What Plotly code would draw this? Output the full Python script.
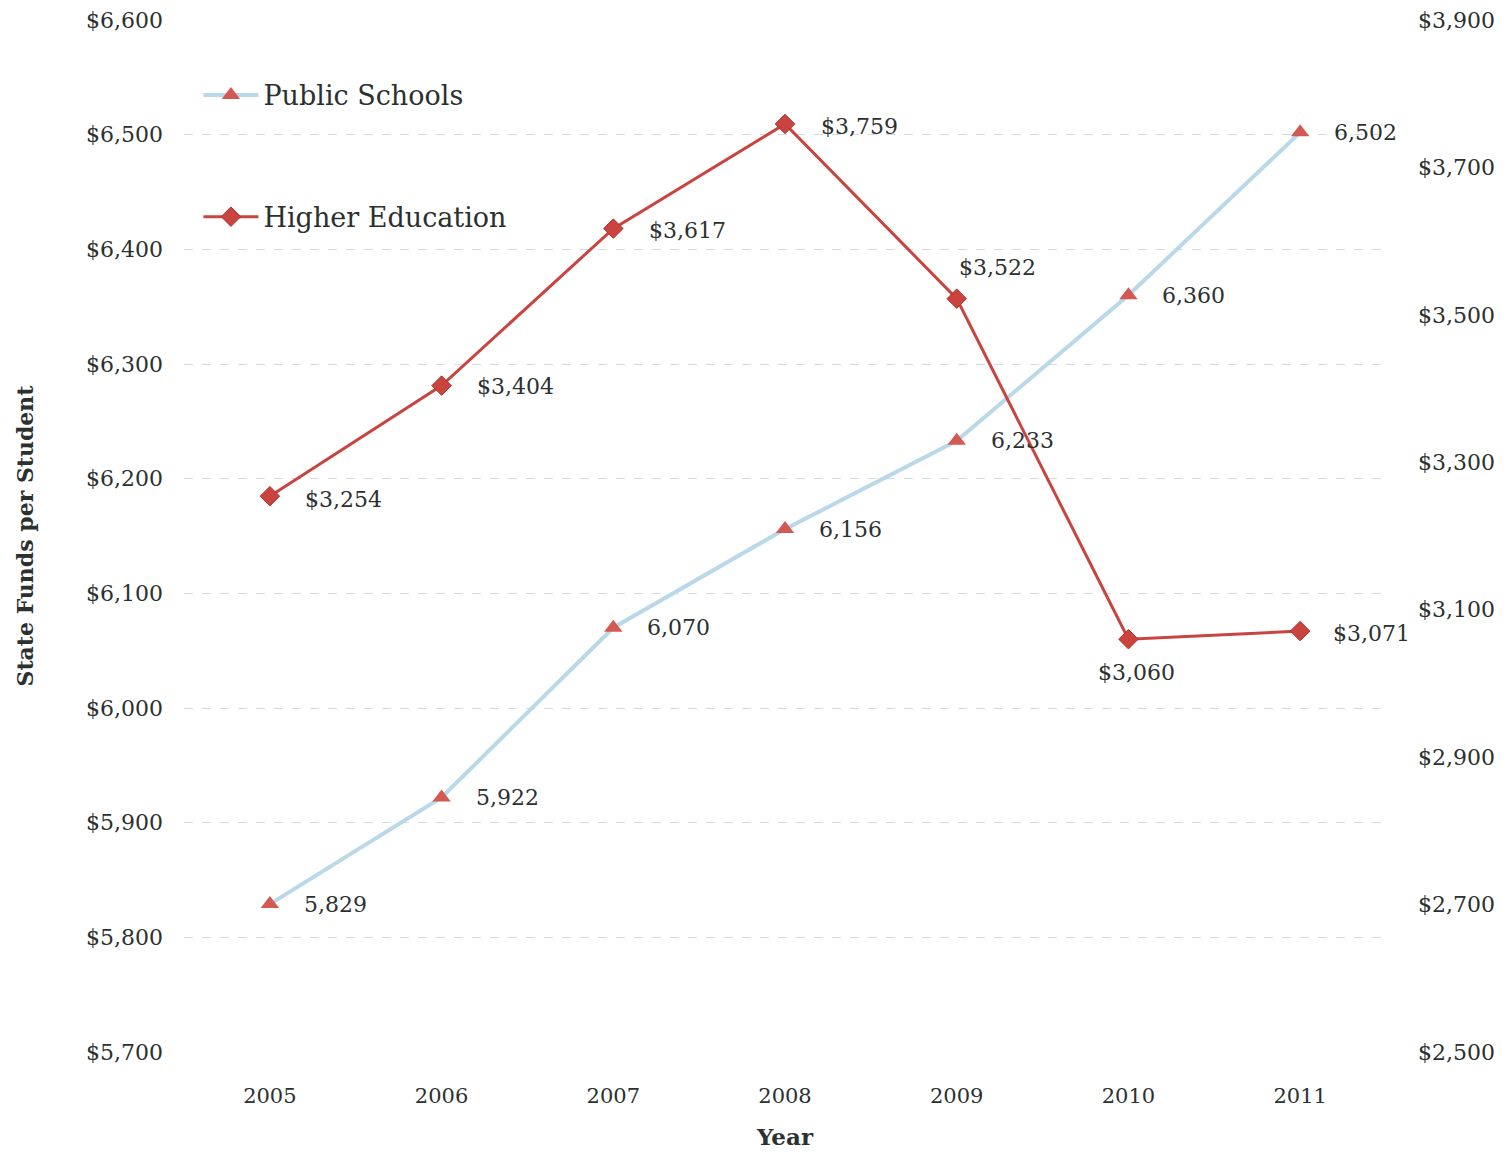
import plotly.graph_objects as go

years = [2005, 2006, 2007, 2008, 2009, 2010, 2011]
public_schools = [5829, 5922, 6070, 6156, 6233, 6360, 6502]
higher_education = [3254, 3404, 3617, 3759, 3522, 3060, 3071]
left_ticks = [5700, 5800, 5900, 6000, 6100, 6200, 6300, 6400, 6500, 6600]
right_ticks = [2500, 2700, 2900, 3100, 3300, 3500, 3700, 3900]

FONT = "DejaVu Serif"
TXT = "#2b312f"
BLUE = "#b9d9ea"
RED = "#c9443f"
MRED = "#d35a52"

fig = go.Figure()
fig.add_trace(go.Scatter(
    x=years, y=public_schools, name="Public Schools", mode="lines+markers",
    line=dict(color=BLUE, width=4),
    marker=dict(symbol="triangle-up", size=16, color=MRED, line=dict(width=0)),
    legend="legend", yaxis="y", showlegend=True))
fig.add_trace(go.Scatter(
    x=years, y=higher_education, name="Higher Education", mode="lines+markers",
    line=dict(color=RED, width=3),
    marker=dict(symbol="diamond", size=15, color=RED, line=dict(width=1, color="#b5302c")),
    legend="legend2", yaxis="y2", showlegend=True))

# label placement (style only)
pub_pos = [(32, 0, "left")] * 7
hi_pos = [(33, -3, "left"), (33, -1, "left"), (34, -2, "left"), (34, -3, "left"),
          (0, 31, "left"), (8, -33, "center"), (31, -2, "left")]

annotations = []
for x, v, (dx, dy, xa) in zip(years, public_schools, pub_pos):
    annotations.append(dict(x=x, y=v, xref="x", yref="y", text=f"{v:,}", showarrow=False,
                            xanchor=xa, yanchor="middle", xshift=dx, yshift=dy,
                            font=dict(family=FONT, size=22, color=TXT)))
for x, v, (dx, dy, xa) in zip(years, higher_education, hi_pos):
    annotations.append(dict(x=x, y=v, xref="x", yref="y2", text=f"${v:,}", showarrow=False,
                            xanchor=xa, yanchor="middle", xshift=dx, yshift=dy,
                            font=dict(family=FONT, size=22, color=TXT)))

fig.update_layout(
    width=1492, height=1142,
    margin=dict(l=176, r=114, t=12, b=98, autoexpand=False),
    paper_bgcolor="white", plot_bgcolor="white",
    showlegend=True,
    font=dict(family=FONT, color=TXT, size=22),
    xaxis=dict(range=[2004.5, 2011.5], tickvals=years, showgrid=False, zeroline=False,
               showline=False, ticks="", ticklabelstandoff=29, automargin=False,
               tickfont=dict(size=21),
               title=dict(text="<b>Year</b>", font=dict(size=23), standoff=40)),
    yaxis=dict(range=[5700, 6600], tickvals=left_ticks,
               ticktext=[f"${v:,}" for v in left_ticks],
               showgrid=True, gridcolor="#d3dae0", griddash="dash", gridwidth=1,
               zeroline=False, showline=False, ticks="", ticklabelstandoff=20,
               ticklabeloverflow="allow", automargin=False,
               tickfont=dict(size=22),
               title=dict(text="<b>State Funds per Student</b>", font=dict(size=22), standoff=46)),
    yaxis2=dict(range=[2500, 3900], tickvals=right_ticks,
                ticktext=[f"${v:,}" for v in right_ticks],
                overlaying="y", side="right", showgrid=False, zeroline=False, showline=False,
                ticks="", ticklabelstandoff=31, ticklabeloverflow="allow", automargin=False,
                tickfont=dict(size=22)),
    legend=dict(x=0.012, y=0.927, xanchor="left", yanchor="middle", bgcolor="rgba(0,0,0,0)",
                font=dict(size=27, color=TXT), itemwidth=55, visible=True),
    legend2=dict(x=0.012, y=0.809, xanchor="left", yanchor="middle", bgcolor="rgba(0,0,0,0)",
                 font=dict(size=27, color=TXT), itemwidth=55, visible=True),
    annotations=annotations,
)

fig.write_html("out.html")
